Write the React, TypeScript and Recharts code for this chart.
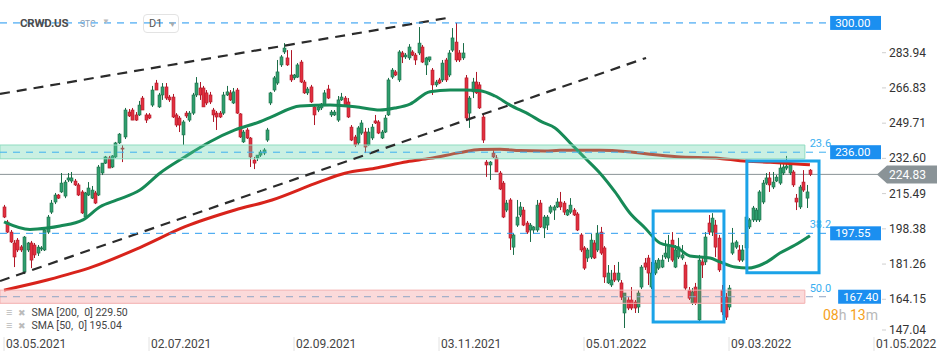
import React from "react";
import {
  ComposedChart,
  Bar,
  Line,
  XAxis,
  YAxis,
  ReferenceLine,
  ReferenceArea,
} from "recharts";

// x axis = trading-day index, 0 = 03.05.2021
const dateLabels = ["03.05.2021", "02.07.2021", "02.09.2021", "03.11.2021", "05.01.2022", "09.03.2022", "01.05.2022"];
const dateTicks = [0, 43, 86, 129, 172, 215, 258];
const priceTicks = [147.04, 164.15, 181.26, 198.38, 215.49, 232.6, 249.71, 266.83, 283.94];

// [open, high, low, close]
const candles: [number, number, number, number][] = [
  [209.0, 210.0, 203.6, 204.1], [201.7, 202.7, 196.3, 196.8], [196.8, 197.8, 191.5, 192.0], [191.5, 192.9, 179.8, 184.7],
  [192.9, 193.9, 187.1, 188.1], [189.6, 190.5, 187.1, 188.1], [177.4, 194.9, 176.4, 194.4], [188.1, 192.0, 187.1, 191.5],
  [191.5, 192.5, 179.3, 183.2], [190.5, 191.5, 184.2, 185.7], [186.6, 190.5, 185.2, 189.5], [188.6, 190.0, 187.6, 189.1],
  [188.1, 198.8, 187.6, 197.8], [196.8, 205.1, 195.9, 204.1], [206.5, 212.4, 205.6, 210.9], [211.4, 215.8, 210.4, 214.8],
  [214.8, 215.3, 212.9, 213.3], [216.3, 225.5, 215.8, 220.6], [214.3, 222.1, 213.3, 221.1], [222.1, 225.5, 221.1, 223.1],
  [221.6, 226.0, 220.6, 223.1], [221.6, 222.6, 219.2, 219.7], [219.7, 220.6, 214.3, 214.8], [216.3, 217.2, 205.6, 206.1],
  [204.1, 216.3, 203.1, 215.8], [214.8, 221.1, 214.3, 218.2], [213.3, 219.2, 212.9, 217.2], [215.8, 216.8, 210.4, 210.9],
  [214.8, 229.4, 214.3, 228.4], [225.5, 230.3, 224.5, 230.3], [230.3, 233.8, 229.9, 233.3], [232.8, 233.8, 227.9, 227.9],
  [228.4, 234.2, 227.9, 233.8], [233.3, 240.6, 232.8, 240.1], [240.1, 244.9, 239.6, 244.4], [237.6, 239.1, 230.8, 237.2],
  [243.0, 257.1, 242.0, 256.1], [255.1, 256.6, 252.7, 253.2], [256.1, 257.1, 251.2, 251.2], [253.7, 255.1, 250.8, 251.2],
  [253.7, 260.5, 253.2, 258.5], [261.9, 262.9, 256.1, 256.1], [253.7, 254.6, 249.8, 251.2], [253.7, 254.6, 251.7, 252.2],
  [258.5, 267.8, 257.6, 265.8], [269.2, 270.7, 265.8, 265.8], [257.6, 264.4, 257.1, 263.4], [263.4, 269.2, 261.0, 267.3],
  [267.3, 269.2, 261.0, 261.9], [262.4, 263.4, 260.0, 261.0], [262.4, 263.9, 252.2, 252.7], [253.7, 254.6, 247.8, 248.8],
  [252.2, 253.2, 245.4, 248.8], [244.0, 251.2, 239.1, 250.3], [254.6, 255.6, 252.2, 253.2], [251.2, 255.6, 250.3, 254.6],
  [254.6, 264.4, 253.7, 263.4], [263.4, 272.1, 262.4, 269.2], [266.8, 269.7, 261.0, 263.4], [266.8, 267.8, 257.6, 257.6],
  [264.4, 265.8, 258.5, 259.5], [263.4, 264.9, 259.0, 260.0], [256.1, 257.1, 250.3, 253.7], [254.6, 255.6, 246.4, 252.7],
  [254.6, 255.6, 252.2, 252.7], [254.6, 264.9, 253.7, 263.4], [263.4, 267.8, 262.9, 264.9], [264.4, 265.8, 260.5, 261.0],
  [259.5, 266.8, 259.0, 264.9], [265.8, 266.8, 254.2, 254.6], [254.2, 254.6, 242.5, 243.0], [240.6, 246.4, 240.1, 245.4],
  [246.4, 247.4, 242.0, 242.5], [242.5, 243.0, 228.4, 233.3], [231.8, 233.3, 227.4, 230.3], [232.8, 234.2, 231.3, 234.2],
  [234.2, 236.7, 233.3, 235.7], [235.2, 237.6, 234.2, 236.7], [241.5, 247.4, 240.6, 246.4], [259.5, 264.9, 258.5, 264.4],
  [265.8, 272.6, 264.9, 271.7], [269.2, 280.4, 268.3, 274.6], [278.0, 282.8, 277.0, 281.9], [284.3, 288.6, 283.3, 286.2],
  [281.4, 285.2, 277.5, 278.0], [273.1, 285.2, 269.7, 270.7], [271.7, 273.6, 270.7, 273.1], [272.1, 278.9, 271.7, 278.0],
  [279.4, 280.4, 269.2, 269.7], [269.7, 270.7, 263.9, 264.4], [264.4, 267.3, 263.4, 266.3], [267.3, 268.3, 259.5, 260.0],
  [257.6, 258.5, 248.8, 253.7], [256.1, 258.5, 255.1, 257.6], [257.1, 259.5, 256.1, 259.0], [258.5, 265.8, 258.0, 264.4],
  [266.3, 268.3, 261.4, 261.9], [253.7, 256.1, 252.7, 255.1], [253.7, 256.1, 253.2, 255.1], [251.2, 262.9, 250.3, 261.0],
  [261.0, 264.4, 260.5, 262.4], [261.9, 262.9, 258.0, 258.5], [260.0, 261.9, 252.2, 252.7], [247.8, 248.8, 241.0, 241.5],
  [243.0, 244.0, 238.1, 239.1], [240.1, 248.3, 239.1, 247.4], [244.9, 251.2, 244.0, 249.8], [245.4, 247.4, 235.2, 238.1],
  [239.1, 247.4, 238.6, 245.4], [242.5, 249.3, 241.5, 247.8], [250.8, 253.7, 249.3, 249.8], [250.3, 251.2, 244.4, 244.9],
  [242.5, 246.4, 242.0, 245.4], [245.4, 253.7, 244.9, 252.2], [253.7, 271.7, 253.2, 270.7], [272.1, 276.5, 271.2, 275.5],
  [274.6, 275.5, 272.6, 273.1], [270.7, 285.2, 269.7, 284.3], [283.8, 284.8, 278.9, 281.9], [281.9, 283.8, 280.9, 282.8],
  [281.4, 288.1, 280.4, 286.7], [284.3, 285.2, 282.3, 282.8], [282.8, 283.8, 278.0, 280.4], [283.8, 296.4, 282.8, 288.6],
  [286.7, 287.7, 278.9, 279.4], [278.0, 281.9, 273.1, 281.4], [280.4, 281.9, 279.4, 281.9], [275.5, 276.5, 263.4, 268.3],
  [268.3, 270.7, 267.3, 269.7], [270.7, 271.7, 268.7, 269.2], [270.7, 280.4, 269.7, 278.9], [280.4, 281.4, 269.7, 270.7],
  [273.1, 285.2, 272.1, 283.8], [285.2, 295.9, 284.3, 291.1], [289.1, 298.4, 279.4, 280.4], [283.8, 285.2, 279.4, 280.4],
  [281.4, 288.6, 280.4, 283.8], [271.7, 273.1, 251.2, 252.2], [254.6, 262.9, 247.4, 261.9], [264.9, 271.7, 261.9, 269.7],
  [269.7, 274.6, 263.9, 264.4], [268.3, 269.7, 256.6, 257.1], [252.7, 253.7, 240.1, 241.5], [230.8, 231.8, 223.6, 229.4],
  [229.4, 231.3, 222.1, 230.8], [235.2, 236.7, 232.8, 233.3], [232.8, 234.2, 226.0, 226.0], [225.5, 226.5, 217.2, 217.7],
  [220.6, 221.6, 203.6, 204.1], [207.5, 212.4, 206.5, 210.9], [212.4, 213.3, 188.1, 193.9], [189.5, 196.3, 185.7, 195.4],
  [200.2, 212.4, 199.3, 204.1], [205.1, 211.4, 204.1, 209.0], [207.5, 209.0, 199.7, 200.2], [201.2, 202.2, 195.9, 196.8],
  [197.8, 201.2, 192.0, 200.2], [197.8, 199.7, 195.9, 199.3], [197.8, 212.4, 196.8, 209.9], [210.9, 212.4, 198.8, 199.3],
  [198.8, 205.1, 193.9, 204.1], [200.2, 205.1, 197.8, 204.1], [206.5, 209.9, 205.6, 209.0], [207.5, 209.9, 202.7, 209.0],
  [209.0, 213.3, 208.5, 211.4], [211.4, 216.3, 207.5, 209.0], [210.9, 211.9, 205.1, 206.5], [205.1, 208.0, 204.6, 207.5],
  [206.5, 213.3, 205.6, 209.9], [207.5, 208.5, 204.6, 205.1], [205.6, 206.5, 197.3, 197.8], [195.4, 196.3, 187.1, 188.1],
  [189.1, 190.0, 178.4, 179.3], [184.2, 189.1, 182.3, 188.1], [184.7, 195.9, 183.7, 192.9], [191.5, 192.9, 183.7, 184.2],
  [188.1, 200.2, 187.1, 196.3], [196.8, 199.3, 185.7, 186.6], [189.1, 190.0, 172.1, 175.0], [172.1, 180.8, 171.6, 176.9],
  [171.1, 178.4, 170.1, 173.5], [176.9, 180.8, 172.5, 173.5], [173.5, 182.3, 172.5, 176.9], [172.1, 173.5, 163.8, 165.2],
  [157.5, 167.2, 150.2, 167.2], [163.8, 165.2, 158.9, 159.9], [163.8, 170.1, 158.9, 159.9], [162.8, 163.8, 157.5, 159.9],
  [160.4, 168.6, 157.5, 167.2], [170.1, 180.8, 169.1, 179.8], [181.8, 184.2, 178.4, 179.8], [184.2, 185.7, 171.1, 176.9],
  [170.1, 182.3, 169.1, 176.9], [176.9, 183.2, 175.9, 181.8], [179.3, 184.2, 178.4, 183.2], [179.8, 185.7, 179.3, 183.2],
  [184.7, 192.9, 183.7, 186.6], [184.2, 195.4, 182.3, 190.5], [192.9, 196.8, 182.3, 183.2], [179.8, 190.5, 179.3, 188.1],
  [184.7, 194.0, 183.7, 189.6], [184.2, 190.5, 183.2, 185.7], [180.8, 182.3, 168.6, 169.6], [168.6, 170.1, 163.8, 164.7],
  [162.3, 169.6, 161.4, 167.7], [170.1, 172.1, 161.4, 162.3], [154.1, 185.7, 153.1, 183.2], [182.3, 184.2, 174.5, 180.8],
  [182.3, 196.8, 180.8, 194.4], [201.2, 205.1, 195.4, 196.8], [196.8, 206.0, 194.9, 203.6], [200.2, 202.7, 184.7, 189.5],
  [193.9, 195.4, 177.4, 178.4], [168.6, 171.1, 156.5, 158.0], [165.2, 167.2, 154.1, 155.5], [160.4, 171.1, 158.9, 169.6],
  [186.6, 198.8, 185.7, 191.5], [189.5, 192.9, 188.6, 192.0], [188.1, 190.5, 182.3, 183.2], [183.2, 190.5, 182.3, 188.1],
  [189.1, 205.6, 188.1, 204.1], [199.3, 203.6, 198.3, 202.7], [202.7, 209.5, 201.7, 208.5], [202.7, 208.5, 201.7, 207.5],
  [202.7, 217.2, 201.7, 216.3], [211.4, 222.1, 210.4, 220.6], [220.6, 225.5, 219.7, 223.1], [223.1, 226.0, 216.3, 219.7],
  [218.7, 226.0, 217.7, 221.1], [221.6, 224.5, 221.1, 223.5], [220.6, 230.3, 219.7, 227.9], [225.5, 231.3, 224.5, 228.4],
  [227.9, 233.8, 226.9, 228.9], [225.5, 229.4, 224.5, 229.4], [226.0, 226.9, 218.7, 219.7], [213.3, 215.3, 207.5, 211.4],
  [209.0, 219.7, 208.0, 218.7], [221.1, 226.9, 216.3, 217.2], [213.3, 219.7, 208.5, 216.3], [226.9, 227.4, 224.0, 224.83],
];

// moving averages: [index, value]
const sma200: [number, number][] = [
  [0, 168.6], [12.8, 173.5], [26.4, 180.0], [40.3, 189.3], [53.7, 199.4], [68.5, 207.5], [79.5, 212.4],
  [93.7, 221.3], [101.1, 225.4], [110, 227.8], [119.5, 231.0], [126.3, 232.6], [135.2, 235.4], [141.2, 236.9],
  [147.1, 237.0], [153, 236.4], [160.4, 236.2], [164.9, 236.5], [176.7, 236.5], [184.2, 236.0], [191.6, 234.6],
  [199.6, 233.4], [212.3, 232.6], [218.3, 231.5], [227.2, 230.7], [239, 229.5],
];
const sma50: [number, number][] = [
  [0, 201.8], [7.7, 198.1], [12.8, 198.8], [16.6, 199.8], [23.4, 202.7], [28.5, 209.1], [33.5, 212.4],
  [40.3, 217.2], [46.3, 225.5], [53.7, 233.4], [61.1, 240.7], [68.5, 246.4], [75.9, 250.4], [79.5, 252.9],
  [87.8, 258.0], [96.7, 258.5], [104.1, 257.7], [111.5, 256.1], [116, 257.1], [120.4, 259.0], [126.3, 265.0],
  [132.3, 265.8], [136.7, 265.8], [141.2, 265.5], [145.6, 262.9], [150.1, 258.5], [156, 253.7], [159.5, 250.3],
  [163.4, 247.4], [167.9, 240.1], [172.3, 232.8], [176.7, 225.5], [181.2, 216.3], [185.6, 206.1], [190.1, 198.8],
  [194.5, 191.5], [199.6, 189.3], [203.4, 185.2], [209.4, 184.2], [212.3, 182.3], [216.8, 179.8], [220.6, 179.3],
  [225.7, 181.8], [230.1, 186.6], [234.6, 190.5], [239, 195.04],
];

// drawing objects
const trendLines: [number, number][][] = [
  [[-1.19, 263.9], [131.4, 300.8]],
  [[-1.19, 173.0], [190.4, 281.4]],
];
const levelValues = [298.4, 235.6, 196.2, 165.4];
const levelLabels = ["300.00", "236.00", "197.55", "167.40"];
const fibLabels = ["", "23.6", "38.2", "50.0"];
const resistanceBand = [232.4, 239.1];
const supportBand = [162.2, 168.6];
const boxes = [
  [192.5, 213.5, 153.1, 207.0],
  [220.3, 241.7, 177.0, 231.3],
];
const lastPrice = 224.83;
const legendRows = ["SMA [200,  0] 229.50", "SMA [50,  0] 195.04"];

const X_DOMAIN: [number, number] = [-1.19, 259.78];
const Y_DOMAIN: [number, number] = [146.32, 304.68];
const LEVEL_END = 244.4;
const BAND_END = 237.5;
const FONT = "Roboto, sans-serif";

const rows = candles.map(([o, h, l, c], i) => ({ i, o, h, l, c, range: [l, h] }));
const sma200Rows = sma200.map(([i, v]) => ({ i, v }));
const sma50Rows = sma50.map(([i, v]) => ({ i, v }));

function Candle(props: any) {
  const { x, y, width, height, payload } = props;
  if (x == null || y == null || !payload) return null;
  const top = Math.min(y, y + height);
  const bottom = Math.max(y, y + height);
  const span = payload.h - payload.l || 1;
  const py = (p: number) => top + ((payload.h - p) / span) * (bottom - top);
  const cx = Math.round(x + width / 2) + 0.5;
  const up = payload.c >= payload.o;
  const b1 = Math.min(py(payload.o), py(payload.c));
  const b2 = Math.max(py(payload.o), py(payload.c));
  const fill = up ? "#2f9e6e" : "#e2303f";
  const edge = up ? "#1b6d48" : "#b01828";
  return (
    <g>
      <line x1={cx} x2={cx} y1={top} y2={bottom} stroke={edge} strokeWidth={1} />
      <rect x={cx - 1.5} y={b1} width={3} height={Math.max(b2 - b1, 1)} fill={fill} stroke={edge} strokeWidth={0.6} />
    </g>
  );
}

function DateTick(props: any) {
  const { x, y, payload } = props;
  const k = dateTicks.indexOf(payload.value);
  return (
    <g>
      <line x1={x} x2={x} y1={y - 7} y2={y + 7} stroke="#e2e2e2" />
      <text x={x + 2} y={y + 4} fontSize={12} fill="#444" fontFamily={FONT}>
        {k >= 0 ? dateLabels[k] : ""}
      </text>
    </g>
  );
}

function PriceTick(props: any) {
  const { x, y, payload } = props;
  const ty = Math.min(y, 330);
  return (
    <g>
      <line x1={x - 6} x2={x - 2} y1={ty} y2={ty} stroke="#cfcfcf" />
      <text x={x + 1} y={ty + 4} fontSize={12} fill="#333" fontFamily={FONT}>
        {Number(payload.value).toFixed(2)}
      </text>
    </g>
  );
}

function LevelTag(props: any) {
  const { viewBox, text, fib, narrow } = props;
  if (!viewBox) return null;
  const xEnd = viewBox.x + viewBox.width;
  const y = viewBox.y;
  const bx = xEnd + (narrow ? 10 : 2);
  return (
    <g fontFamily={FONT}>
      {fib ? (
        <text x={xEnd + 3} y={y - 5} textAnchor="end" fontSize={11} fill="#3aaef0">
          {fib}
        </text>
      ) : null}
      <rect x={bx} y={y - 7} width={881 - bx} height={14} fill="#1b8ff0" />
      <text x={bx + 5} y={y + 4} fontSize={11.5} fill="#fff">
        {text}
      </text>
    </g>
  );
}

function PriceTag(props: any) {
  const { viewBox } = props;
  if (!viewBox) return null;
  const xEnd = viewBox.x + viewBox.width;
  const y = viewBox.y;
  const tip = xEnd - 3;
  return (
    <g fontFamily={FONT}>
      <polygon
        points={`${tip},${y} ${tip + 10},${y - 9} ${tip + 60},${y - 9} ${tip + 60},${y + 9} ${tip + 10},${y + 9}`}
        fill="#8a9397"
      />
      <text x={tip + 12} y={y + 4.5} fontSize={12} fill="#fff">
        {lastPrice.toFixed(2)}
      </text>
    </g>
  );
}

const levelColors = ["#1e96f0", "#3fb0f0", "#2b9cf0", "#8fa5c4"];

export default function App() {
  return (
    <div style={{ position: "absolute", left: 0, top: 0, width: 950, height: 360, background: "#fff", fontFamily: FONT }}>
      <ComposedChart width={950} height={360} data={rows} margin={{ top: 10, right: 0, bottom: 0, left: 0 }}>
        <XAxis
          dataKey="i"
          type="number"
          domain={X_DOMAIN}
          allowDataOverflow
          ticks={dateTicks}
          interval={0}
          height={24}
          axisLine={false}
          tickLine={false}
          tickSize={6}
          tickMargin={2}
          tick={<DateTick />}
        />
        <YAxis
          orientation="right"
          type="number"
          domain={Y_DOMAIN}
          allowDataOverflow
          ticks={priceTicks}
          interval={0}
          width={70}
          axisLine={false}
          tickLine={false}
          tickSize={6}
          tickMargin={2}
          tick={<PriceTick />}
        />

        <ReferenceLine y={lastPrice} stroke="#8a9397" strokeWidth={1} zIndex={250} label={<PriceTag />} />

        <Bar dataKey="range" barSize={3} shape={Candle} isAnimationActive={false} />
        <Line data={sma200Rows} dataKey="v" type="monotone" stroke="#d8231b" strokeWidth={3} dot={false} activeDot={false} isAnimationActive={false} />
        <Line data={sma50Rows} dataKey="v" type="monotone" stroke="#178a57" strokeWidth={3} dot={false} activeDot={false} isAnimationActive={false} />

        <ReferenceArea
          x1={X_DOMAIN[0]}
          x2={BAND_END}
          y1={resistanceBand[0]}
          y2={resistanceBand[1]}
          fill="#5fd0a8"
          fillOpacity={0.33}
          stroke="#8fdcc0"
          strokeWidth={1}
          ifOverflow="hidden"
          zIndex={450}
        />
        <ReferenceArea
          x1={X_DOMAIN[0]}
          x2={BAND_END}
          y1={supportBand[0]}
          y2={supportBand[1]}
          fill="#f06464"
          fillOpacity={0.24}
          stroke="#f3b0b0"
          strokeWidth={1}
          ifOverflow="hidden"
          zIndex={450}
        />

        {trendLines.map((seg, k) => (
          <ReferenceLine
            key={`t${k}`}
            segment={[{ x: seg[0][0], y: seg[0][1] }, { x: seg[1][0], y: seg[1][1] }]}
            stroke="#2b2b2b"
            strokeWidth={2.2}
            strokeDasharray="10 7"
            ifOverflow="hidden"
            zIndex={460}
          />
        ))}

        {levelValues.map((v, k) => (
          <ReferenceLine
            key={`l${k}`}
            segment={[{ x: X_DOMAIN[0], y: v }, { x: LEVEL_END, y: v }]}
            stroke={levelColors[k]}
            strokeWidth={1}
            strokeDasharray="7 6"
            ifOverflow="visible"
            zIndex={470}
            label={<LevelTag text={levelLabels[k]} fib={fibLabels[k]} narrow={k === 3} />}
          />
        ))}

        {boxes.map((b, k) => (
          <ReferenceArea
            key={`b${k}`}
            x1={b[0]}
            x2={b[1]}
            y1={b[2]}
            y2={b[3]}
            fill="none"
            fillOpacity={0}
            stroke="#1ba3e8"
            strokeWidth={3}
            ifOverflow="visible"
            zIndex={480}
          />
        ))}
      </ComposedChart>

      {/* header */}
      <div style={{ position: "absolute", left: 20, top: 16, fontSize: 11.5, fontWeight: 700, color: "#4c4c4c", letterSpacing: -0.2 }}>
        CRWD.US
      </div>
      <div style={{ position: "absolute", left: 80, top: 19, fontSize: 8.5, color: "#8aa0b5" }}>STC</div>
      <div style={{ position: "absolute", left: 102, top: 17, fontSize: 8, color: "#bbb" }}>▼</div>
      <div
        style={{
          position: "absolute",
          left: 143,
          top: 14,
          width: 34,
          height: 17,
          border: "1px solid #e3e3e3",
          borderRadius: 4,
          fontSize: 11,
          color: "#555",
          lineHeight: "17px",
        }}
      >
        <span style={{ marginLeft: 5 }}>D1</span>
        <span style={{ marginLeft: 6, fontSize: 8, color: "#aaa" }}>▼</span>
      </div>

      {/* indicator legend */}
      {legendRows.map((t, k) => (
        <div
          key={t}
          style={{
            position: "absolute",
            left: 6,
            top: 306 + k * 13,
            fontSize: 10.5,
            color: "#444",
            whiteSpace: "pre",
            lineHeight: "13px",
          }}
        >
          <span style={{ color: "#bbb", fontSize: 11 }}>≡</span>
          <span style={{ color: "#bbb", fontSize: 9, marginLeft: 6 }}>✖</span>
          <span style={{ marginLeft: 5 }}>{t}</span>
        </div>
      ))}

      {/* candle countdown */}
      <div style={{ position: "absolute", left: 823, top: 306, fontSize: 14, lineHeight: "18px", whiteSpace: "pre" }}>
        <span style={{ color: "#f5a11c" }}>08</span>
        <span style={{ color: "#b8b8b8" }}>h </span>
        <span style={{ color: "#f5a11c" }}>13</span>
        <span style={{ color: "#b8b8b8" }}>m</span>
      </div>
    </div>
  );
}
